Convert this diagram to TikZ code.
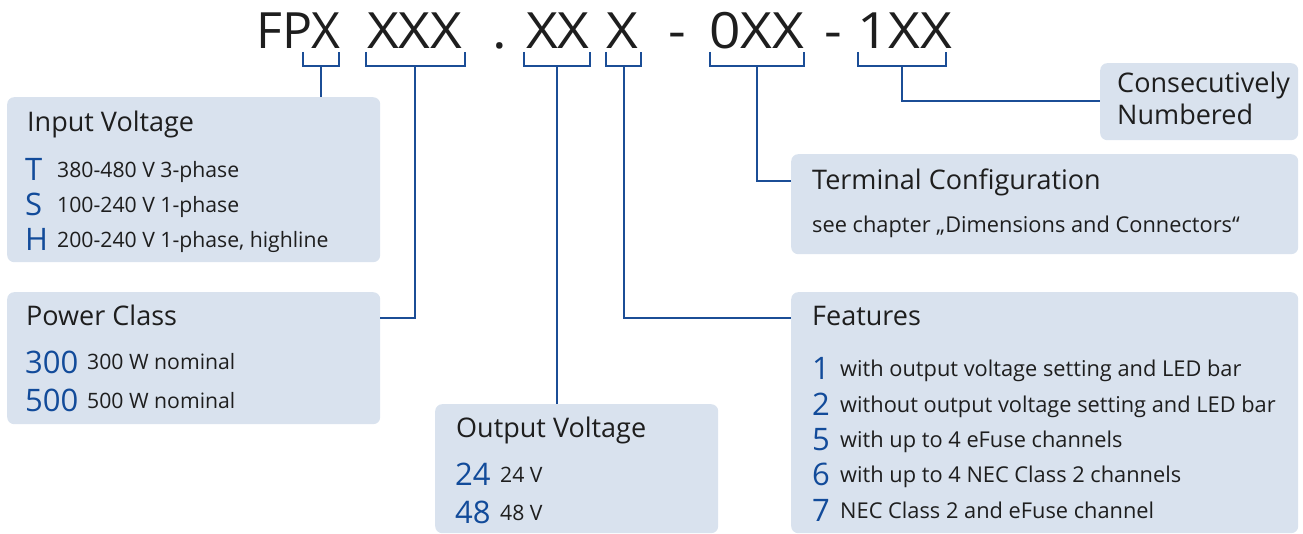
\documentclass[tikz,border=0pt]{standalone}
\usepackage{fontspec}
\setmainfont{Open Sans}
\newfontfamily\codefont[FakeStretch=1.1]{Open Sans}
\definecolor{boxfill}{HTML}{D9E2EE}
\definecolor{linkblue}{HTML}{1B4D96}
\definecolor{codeblue}{HTML}{124B9A}
\definecolor{ink}{HTML}{1E1E1E}
\begin{document}
\begin{tikzpicture}[x=1pt,y=-1pt,
  infobox/.style={fill=boxfill,rounded corners=7pt,draw=none},
  link/.style={draw=linkblue,line width=2.6pt},
  bracket/.style={draw=linkblue,line width=2.6pt,line join=miter},
  code/.style={inner sep=0pt,anchor=base west,text=ink,font=\codefont\fontsize{50}{50}\selectfont},
  codeplain/.style={inner sep=0pt,anchor=base west,text=ink,font=\fontsize{50}{50}\selectfont},
  head/.style={inner sep=0pt,anchor=base west,text=ink,font=\fontsize{27}{27}\selectfont},
  body/.style={inner sep=0pt,anchor=base west,text=ink,font=\fontsize{21.2}{21.2}\selectfont},
  bodyr/.style={inner sep=0pt,anchor=base west,text=ink,font=\fontsize{21.8}{21.8}\selectfont},
  key/.style={inner sep=0pt,anchor=base west,text=codeblue,font=\fontsize{31}{31}\selectfont}]
\useasboundingbox (0,0) rectangle (1303,534);

% code line
\node[codeplain] (c1) at (256,49) {FPX};
\node[code] (c2) at (367,49) {XXX};
\node[code] (c3) at (492,49) {.};
\node[code] (c4) at (526,49) {XX};
\node[code] (c5) at (606,49) {X};
\node[code] (c6) at (668,49) {-};
\node[code] (c7) at (709,49) {0XX};
\node[code] (c8) at (824,49) {-};
\node[code] (c9) at (857,49) {1XX};

% boxes
\node[infobox,anchor=north west,minimum width=373pt,minimum height=165pt] (bin) at (7,97) {};
\node[infobox,anchor=north west,minimum width=373pt,minimum height=132pt] (bpc) at (7,292) {};
\node[infobox,anchor=north west,minimum width=283pt,minimum height=129pt] (bov) at (435,404) {};
\node[infobox,anchor=north west,minimum width=198pt,minimum height=77pt] (bcn) at (1100,63) {};
\node[infobox,anchor=north west,minimum width=507pt,minimum height=100pt] (btc) at (791,154) {};
\node[infobox,anchor=north west,minimum width=507pt,minimum height=241pt] (bft) at (791,292) {};

% brackets
\draw[bracket] (303,52) -- (303,66) -- (339,66) -- (339,52);
\draw[bracket] (366,52) -- (366,66) -- (465,66) -- (465,52);
\draw[bracket] (524,52) -- (524,66) -- (590,66) -- (590,52);
\draw[bracket] (606,52) -- (606,66) -- (641,66) -- (641,52);
\draw[bracket] (710,52) -- (710,66) -- (804,66) -- (804,52);
\draw[bracket] (858,52) -- (858,66) -- (946,66) -- (946,52);
\coordinate (k1) at (321,66);
\coordinate (k2) at (415,66);
\coordinate (k3) at (557,66);
\coordinate (k4) at (624,66);
\coordinate (k5) at (757,66);
\coordinate (k6) at (902,66);

% connectors
\draw[link] (k1) -- (k1 |- bin.north);
\draw[link] (k2) |- (bpc.east |- 0,318);
\draw[link] (k3) -- (k3 |- bov.north);
\draw[link] (k4) |- (bft.west |- 0,318);
\draw[link] (k5) |- (btc.west |- 0,181);
\draw[link] (k6) |- (bcn.west |- 0,101);

% Input voltage
\node[head] (hin) at (27,132) {Input Voltage};
\node[key] (kT) at (25,181) {T};
\node[body] (tT) at (57,178) {380-480 V 3-phase};
\node[key] (kS) at (25,216) {S};
\node[body] (tS) at (57,213) {100-240 V 1-phase};
\node[key] (kH) at (25,251) {H};
\node[body] (tH) at (57,248) {200-240 V 1-phase, highline};

% Power class
\node[head] (hpc) at (26,326) {Power Class};
\node[key] (k300) at (25,373) {300};
\node[body] (t300) at (87,370) {300 W nominal};
\node[key] (k500) at (25,411) {500};
\node[body] (t500) at (87,408) {500 W nominal};

% Output voltage
\node[head] (hov) at (456,437) {Output Voltage};
\node[key] (k24) at (455,485) {24};
\node[body] (t24) at (500,482) {24 V};
\node[key] (k48) at (455,523) {48};
\node[body] (t48) at (500,520) {48 V};

% Consecutively numbered
\node[head] (hcn1) at (1117,93) {Consecutively};
\node[head] (hcn2) at (1117,125) {Numbered};

% Terminal configuration
\node[head] (htc) at (812,190) {Terminal Configuration};
\node[bodyr] (ttc) at (812,233) {see chapter „Dimensions and Connectors“};

% Features
\node[head] (hft) at (812,326) {Features};
\node[key] (f1) at (812,379) {1};
\node[bodyr] (tf1) at (840,376) {with output voltage setting and LED bar};
\node[key] (f2) at (812,415) {2};
\node[bodyr] (tf2) at (840,412) {without output voltage setting and LED bar};
\node[key] (f5) at (812,450) {5};
\node[bodyr] (tf5) at (840,447) {with up to 4 eFuse channels};
\node[key] (f6) at (812,485) {6};
\node[bodyr] (tf6) at (840,482) {with up to 4 NEC Class 2 channels};
\node[key] (f7) at (812,521) {7};
\node[bodyr] (tf7) at (840,518) {NEC Class 2 and eFuse channel};
\end{tikzpicture}
\end{document}
